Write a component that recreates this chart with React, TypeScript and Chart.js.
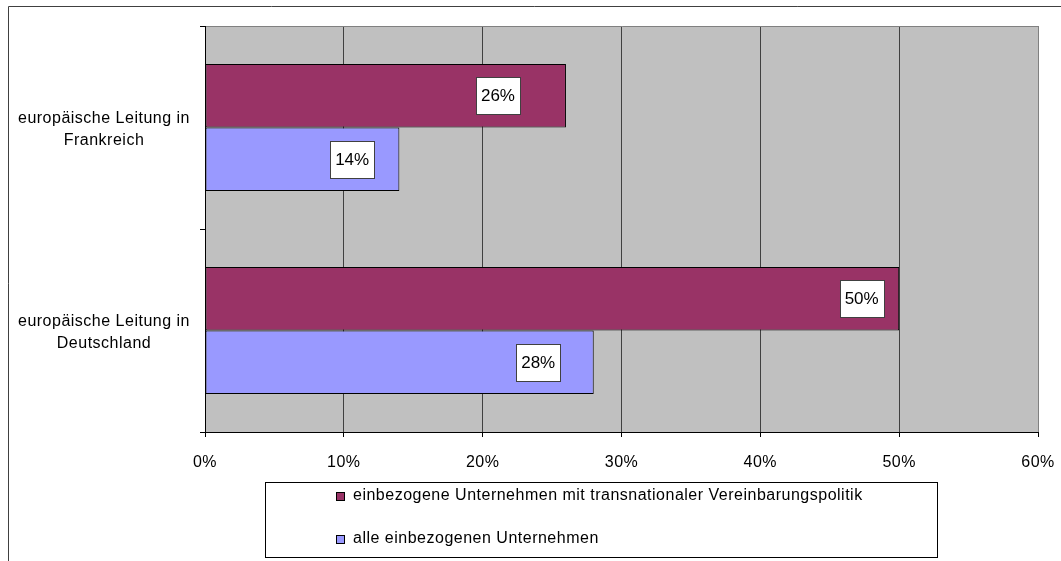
import React, { useEffect, useRef } from "react";
import { Chart, registerables } from "chart.js";

Chart.register(...registerables);

const FONT = "'Liberation Sans', Arial, sans-serif";

const categories = [
  ["europäische Leitung in", "Frankreich"],
  ["europäische Leitung in", "Deutschland"],
];
const seriesNames = [
  "einbezogene Unternehmen mit transnationaler Vereinbarungspolitik",
  "alle einbezogenen Unternehmen",
];
const transnationalValues = [26, 50];
const allValues = [14, 28];
const seriesColors = ["#993366", "#9999FF"];
const xMin = 0;
const xMax = 60;
const xStep = 10;

// data-unit x position where each value label box is centred (per dataset, per category)
const labelAnchors = [
  [21.1, 47.3],
  [10.6, 24.0],
];

const SPACING = "0.5px";

const spacingPlugin = {
  id: "spacing",
  beforeUpdate(chart: any) {
    chart.ctx.letterSpacing = SPACING;
  },
  beforeLayout(chart: any) {
    chart.ctx.letterSpacing = SPACING;
  },
  beforeDraw(chart: any) {
    const ctx = chart.ctx;
    ctx.letterSpacing = SPACING;
    const { left, top, right, bottom } = chart.chartArea;
    ctx.save();
    // outer frame
    ctx.strokeStyle = "#404040";
    ctx.lineWidth = 1;
    ctx.beginPath();
    ctx.moveTo(8.5, 561);
    ctx.lineTo(8.5, 6.5);
    ctx.lineTo(1061, 6.5);
    ctx.stroke();
    // plot background
    ctx.fillStyle = "#C0C0C0";
    ctx.fillRect(left, top, right - left, bottom - top);
    ctx.restore();
  },
};

const decorPlugin = {
  id: "decor",
  afterDatasetsDraw(chart: any) {
    const ctx = chart.ctx;
    const { left, top, right } = chart.chartArea;
    ctx.save();
    ctx.strokeStyle = "#808080";
    ctx.lineWidth = 1;
    ctx.beginPath();
    ctx.moveTo(left + 1, top + 0.5);
    ctx.lineTo(Math.round(right) + 0.5, top + 0.5);
    ctx.stroke();

    // value labels
    const xScale = chart.scales.x;
    ctx.letterSpacing = "0px";
    ctx.font = `17px ${FONT}`;
    ctx.textAlign = "center";
    ctx.textBaseline = "middle";
    chart.data.datasets.forEach((ds: any, di: number) => {
      const meta = chart.getDatasetMeta(di);
      meta.data.forEach((bar: any, i: number) => {
        const text = `${ds.data[i]}%`;
        const cx = xScale.getPixelForValue(labelAnchors[di][i]);
        const cy = bar.y;
        const w = ctx.measureText(text).width + 10;
        const h = 37;
        const bx = Math.round(cx - w / 2) + 0.5;
        const by = Math.round(cy - h / 2) + 0.5;
        ctx.fillStyle = "#FFFFFF";
        ctx.fillRect(bx, by, Math.round(w), h);
        ctx.strokeStyle = "#404040";
        ctx.strokeRect(bx, by, Math.round(w), h);
        ctx.fillStyle = "#000000";
        ctx.fillText(text, cx, cy + 1);
      });
    });
    ctx.restore();
  },
  afterDraw(chart: any) {
    const ctx = chart.ctx;
    ctx.save();
    // legend box
    ctx.strokeStyle = "#000000";
    ctx.lineWidth = 1;
    ctx.strokeRect(265.5, 482.5, 672, 75);
    ctx.letterSpacing = SPACING;
    ctx.font = `16px ${FONT}`;
    ctx.textAlign = "left";
    ctx.textBaseline = "middle";
    const rows = [495.5, 538.5];
    seriesNames.forEach((name, i) => {
      const y = rows[i];
      const sy = Math.round(y - 4) + 0.5;
      ctx.fillStyle = seriesColors[i];
      ctx.fillRect(336.5, sy, 8, 8);
      ctx.strokeStyle = "#000000";
      ctx.strokeRect(336.5, sy, 8, 8);
      ctx.fillStyle = "#000000";
      ctx.fillText(name, 353, y);
    });
    ctx.restore();
  },
};

export default function App() {
  const canvasRef = useRef<HTMLCanvasElement | null>(null);

  useEffect(() => {
    const canvas = canvasRef.current;
    if (!canvas) return;
    const chart = new Chart(canvas, {
      type: "bar",
      data: {
        labels: categories as any,
        datasets: [
          {
            label: seriesNames[0],
            data: transnationalValues,
            backgroundColor: seriesColors[0],
            borderColor: "#000000",
            borderWidth: 1,
            borderSkipped: false,
            categoryPercentage: 0.626,
            barPercentage: 1,
          },
          {
            label: seriesNames[1],
            data: allValues,
            backgroundColor: seriesColors[1],
            borderColor: "#000000",
            borderWidth: 1,
            borderSkipped: false,
            categoryPercentage: 0.626,
            barPercentage: 1,
          },
        ],
      },
      options: {
        indexAxis: "y",
        animation: false,
        responsive: false,
        maintainAspectRatio: false,
        devicePixelRatio: 1,
        layout: { padding: { top: 26, right: 23, left: 0, bottom: 0 } },
        plugins: {
          legend: { display: false },
          tooltip: { enabled: false },
        },
        scales: {
          x: {
            type: "linear",
            min: xMin,
            max: xMax,
            ticks: {
              stepSize: xStep,
              callback: (v: any) => `${v}%`,
              color: "#000000",
              font: { family: FONT, size: 16 },
              padding: 16,
              maxRotation: 0,
            },
            grid: {
              color: (c: any) => (c.index === 6 ? "#808080" : "#404040"),
              tickColor: "#000000",
              tickLength: 5,
              lineWidth: 1,
            },
            border: { color: "#000000", width: 1 },
            afterFit: (s: any) => {
              s.height = 129;
              s.paddingLeft = 0;
              s.paddingRight = 0;
            },
          },
          y: {
            type: "category",
            ticks: {
              color: "#000000",
              font: { family: FONT, size: 16, lineHeight: "22px" },
              crossAlign: "center",
              padding: 10,
              labelOffset: 2,
            },
            grid: {
              drawOnChartArea: false,
              offset: true,
              tickLength: 5,
              tickColor: "#000000",
              color: "#000000",
            },
            border: { color: "#000000", width: 1 },
            afterFit: (s: any) => {
              s.width = 205;
              s.paddingTop = 0;
              s.paddingBottom = 0;
            },
          },
        },
      } as any,
      plugins: [spacingPlugin, decorPlugin],
    });
    return () => chart.destroy();
  }, []);

  return (
    <div
      style={{
        position: "fixed",
        left: 0,
        top: 0,
        width: 1061,
        height: 561,
        overflow: "hidden",
        background: "#FFFFFF",
      }}
    >
      <canvas
        ref={canvasRef}
        width={1061}
        height={561}
        style={{ display: "block", width: 1061, height: 561 }}
      />
    </div>
  );
}
